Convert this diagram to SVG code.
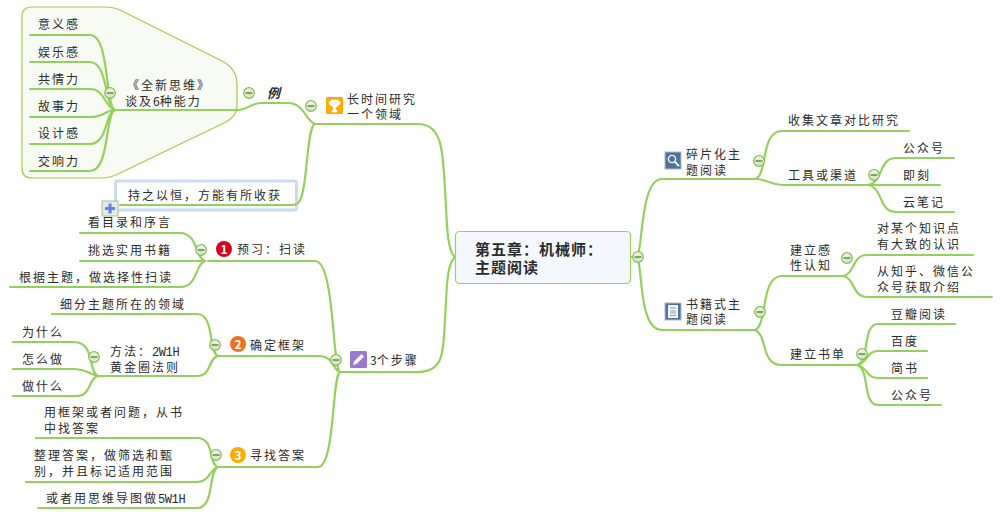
<svg xmlns="http://www.w3.org/2000/svg" width="1000" height="515" viewBox="0 0 1000 515">
<style>
text{font-family:"Noto Sans CJK SC","Noto Sans",sans-serif;font-size:12px;letter-spacing:2px;fill:#2b2b2b}
.c path{fill:none;stroke:#94d05c;stroke-width:2.2;stroke-linecap:round}
.title{font-family:"Liberation Sans","Noto Sans CJK SC",sans-serif;font-size:15px;font-weight:700;letter-spacing:1px}
.m{font-family:"Liberation Mono",monospace;font-size:12px;letter-spacing:-.4px}
.n{letter-spacing:0}
.b{fill:#fff;font-weight:700;letter-spacing:0}
</style>
<defs>
<radialGradient id="btn" cx="50%" cy="70%" r="70%"><stop offset="0" stop-color="#d6dfca"/><stop offset="1" stop-color="#f4f7f0"/></radialGradient>
<g id="col"><circle r="5.3" fill="url(#btn)" stroke="#7fbf45" stroke-width="1.2"/><path d="M-3.5 0H3.5" stroke="#3f7a1c" stroke-width="1.2"/></g>
</defs>
<rect width="1000" height="515" fill="#fff"/>
<g id="boundary"><path d="M32 7H106Q113 7 120 10L222 61Q237 69 237 84V106Q237 116 226 122L118 174Q110 178 102 178H32Q22 178 22 168V17Q22 7 32 7Z" fill="#f8fbf3" stroke="#a8c84a" stroke-width="1.2"/></g>
<g id="note-box"><rect x="115.500" y="181" width="181" height="29" rx="2" fill="#fff" stroke="#c8dbf3" stroke-width="3"/></g>
<g class="c" id="connectors">
<path d="M455 257C446 250 447 215 445 190C443 150 442 124 418 124H315"/>
<path d="M455 257C446 265 447 290 445 320C443 350 445 372 418 372H340"/>
<path d="M631 257H637C643 250 640 179 662 179H755"/>
<path d="M631 257H637C643 265 638 330 662 330H755"/>
<path d="M755 179C768 176 760 131 782 131H909"/>
<path d="M755 179C768 179 770 185 782 185H868"/>
<path d="M868 185C884 182 878 158 896 158H954"/>
<path d="M868 185H940"/>
<path d="M868 185C884 188 878 212 896 212H954"/>
<path d="M755 330C768 325 760 276 782 276H843"/>
<path d="M755 330C768 335 760 365 782 365H857"/>
<path d="M843 276C855 274 852 255 867 255H973"/>
<path d="M843 276C855 278 852 297 867 297H992"/>
<path d="M857 365C870 362 862 324 878 324H955"/>
<path d="M857 365C868 363 866 351 878 351H927"/>
<path d="M857 365C868 367 866 378 878 378H927"/>
<path d="M857 365C870 368 862 405 878 405H941"/>
<path d="M315 124C305 120 304 103 288 103H262C250 103 248 110 237 110H115"/>
<path d="M115 110C105 108 110 35 90 35H30"/>
<path d="M115 110C105 108 108 62 90 62H30"/>
<path d="M115 110C105 108 105 89 90 89H30"/>
<path d="M115 110C105 110 105 117 90 117H30"/>
<path d="M115 110C105 112 108 144 90 144H30"/>
<path d="M115 110C105 112 110 171 90 171H30"/>
<path d="M315 124C306 126 308 195 298 203Q296 205 292 205H120"/>
<path d="M340 372C332 368 335 261 315 261H208"/>
<path d="M340 372C332 370 335 356 318 356H218"/>
<path d="M340 372C332 375 335 467 318 467H218"/>
<path d="M205 261C195 258 198 233 180 233H80"/>
<path d="M205 261H80"/>
<path d="M205 261C195 264 198 287 180 287H10"/>
<path d="M218 356C208 352 215 314 197 314H52"/>
<path d="M218 356C208 358 212 376 197 376H98"/>
<path d="M98 376C88 372 95 342 74 342H13"/>
<path d="M98 376C88 374 88 369 72 369H13"/>
<path d="M98 376C88 378 92 396 76 396H13"/>
<path d="M218 467C208 464 215 438 197 438H36"/>
<path d="M218 467C210 468 210 482 197 482H26"/>
<path d="M218 467C208 470 215 508 197 508H38"/>
</g>
<g id="root"><rect x="455.500" y="231.500" width="175" height="52" rx="4" fill="#f4f8fe" stroke="#9ccf5f" stroke-width="1.2"/><text class="title" x="475" y="255">第五章：机械师：<tspan x="475" dy="18">主题阅读</tspan></text></g>
<g id="root-toggle"><use href="#col" x="638" y="257"/></g>
<g id="n-fragment"><rect x="665" y="152" width="16" height="17" fill="#4f7299" stroke="#a9bccf"/><circle cx="672" cy="159" r="3.600" fill="none" stroke="#fff" stroke-width="1.400"/><path d="M675 162L679 166" stroke="#fff" stroke-width="2"/><text x="686" y="159">碎片化主<tspan x="686" dy="16">题阅读</tspan></text><use href="#col" x="759" y="161"/></g>
<g id="n-collect"><text x="788" y="125">收集文章对比研究</text></g>
<g id="n-tools"><text x="788" y="180">工具或渠道</text><use href="#col" x="874" y="175"/></g>
<g id="n-gzh1"><text x="903" y="153">公众号</text></g>
<g id="n-jike"><text x="903" y="180">即刻</text></g>
<g id="n-yun"><text x="903" y="207">云笔记</text></g>
<g id="n-book"><rect x="665" y="303" width="16" height="17" fill="#4f7299" stroke="#a9bccf"/><rect x="668" y="305" width="10" height="13" fill="#f4f6f8"/><path d="M670 308H676M670 311H676M670 313H676M670 315.500H676" stroke="#6a86a6" stroke-width=".8"/><text x="686" y="309">书籍式主<tspan x="686" dy="15">题阅读</tspan></text><use href="#col" x="760" y="312"/></g>
<g id="n-sense"><text x="790" y="255">建立感<tspan x="790" dy="15">性认知</tspan></text><use href="#col" x="847" y="258"/></g>
<g id="n-a1"><text x="877" y="233">对某个知识点<tspan x="877" dy="16">有大致的认识</tspan></text></g>
<g id="n-a2"><text x="877" y="276">从知乎、微信公<tspan x="877" dy="16">众号获取介绍</tspan></text></g>
<g id="n-list"><text x="790" y="359">建立书单</text><use href="#col" x="862" y="354"/></g>
<g id="n-douban"><text x="891" y="319">豆瓣阅读</text></g>
<g id="n-baidu"><text x="891" y="346">百度</text></g>
<g id="n-jian"><text x="891" y="373">简书</text></g>
<g id="n-gzh2"><text x="891" y="400">公众号</text></g>
<g id="n-long"><use href="#col" x="311" y="106"/><rect x="326" y="97" width="17" height="17" rx="1.500" fill="#fdab00"/><path d="M331 100H338V103Q338 107 335.500 107.500V110H337V112H332V110H333.500V107.500Q331 107 331 103Z M331 101.500H329V103Q329 105 331.500 105.500M338 101.500H340V103Q340 105 337.500 105.500" fill="#fff" stroke="#fff" stroke-width=".6"/><text x="347" y="104">长时间研究<tspan x="347" dy="15">一个领域</tspan></text></g>
<g id="n-eg"><use href="#col" x="249" y="93"/><text x="267" y="98" style="font-weight:700;font-style:italic;letter-spacing:0;font-size:13px">例</text></g>
<g id="n-cloud"><text x="127" y="90">《全新思维》<tspan x="125" dy="16">谈及<tspan class="n">6</tspan>种能力</tspan></text><use href="#col" x="110" y="93"/></g>
<g id="n-c1"><text x="38" y="29">意义感</text></g>
<g id="n-c2"><text x="38" y="57">娱乐感</text></g>
<g id="n-c3"><text x="38" y="84">共情力</text></g>
<g id="n-c4"><text x="38" y="111">故事力</text></g>
<g id="n-c5"><text x="38" y="138">设计感</text></g>
<g id="n-c6"><text x="38" y="166">交响力</text></g>
<g id="n-persist"><text x="128" y="200">持之以恒，方能有所收获</text><rect x="102" y="201" width="16" height="15" fill="#e6ede0" stroke="#a9b8a2"/><path d="M110 203.500V213.500M105 208.500H115" stroke="#5b82f0" stroke-width="3"/></g>
<g id="n-steps"><use href="#col" x="336" y="360"/><rect x="350" y="351" width="17" height="17" rx="1.500" fill="#9b78cd"/><path d="M353 365L354 361.500L361.500 354L364 356.500L356.500 364Z" fill="#fff"/><text x="370" y="365"><tspan class="n">3</tspan>个步骤</text></g>
<g id="n-s1"><use href="#col" x="201" y="250"/><circle cx="224" cy="249" r="8" fill="#d8001f"/><text class="b" x="220.500" y="253.500">1</text><text x="237" y="254">预习：扫读</text></g>
<g id="n-s1a"><text x="88" y="227">看目录和序言</text></g>
<g id="n-s1b"><text x="88" y="255">挑选实用书籍</text></g>
<g id="n-s1c"><text x="19" y="282">根据主题，做选择性扫读</text></g>
<g id="n-s2"><use href="#col" x="215" y="345"/><circle cx="238" cy="344" r="8" fill="#f26f21"/><text class="b" x="234.500" y="348.500">2</text><text x="250" y="350">确定框架</text></g>
<g id="n-s2a"><text x="60" y="309">细分主题所在的领域</text></g>
<g id="n-how"><use href="#col" x="94" y="357"/><text x="110" y="356">方法：<tspan class="m">2W1H</tspan><tspan x="110" dy="16">黄金圈法则</tspan></text></g>
<g id="n-w1"><text x="22" y="337">为什么</text></g>
<g id="n-w2"><text x="22" y="364">怎么做</text></g>
<g id="n-w3"><text x="22" y="391">做什么</text></g>
<g id="n-s3"><use href="#col" x="216" y="455"/><circle cx="238" cy="455" r="8" fill="#fdab00"/><text class="b" x="234.500" y="459.500">3</text><text x="250" y="460">寻找答案</text></g>
<g id="n-s3a"><text x="44" y="417">用框架或者问题，从书<tspan x="44" dy="16">中找答案</tspan></text></g>
<g id="n-s3b"><text x="34" y="460">整理答案，做筛选和甄<tspan x="34" dy="16">别，并且标记适用范围</tspan></text></g>
<g id="n-s3c"><text x="46" y="503">或者用思维导图做<tspan class="m">5W1H</tspan></text></g>
</svg>
